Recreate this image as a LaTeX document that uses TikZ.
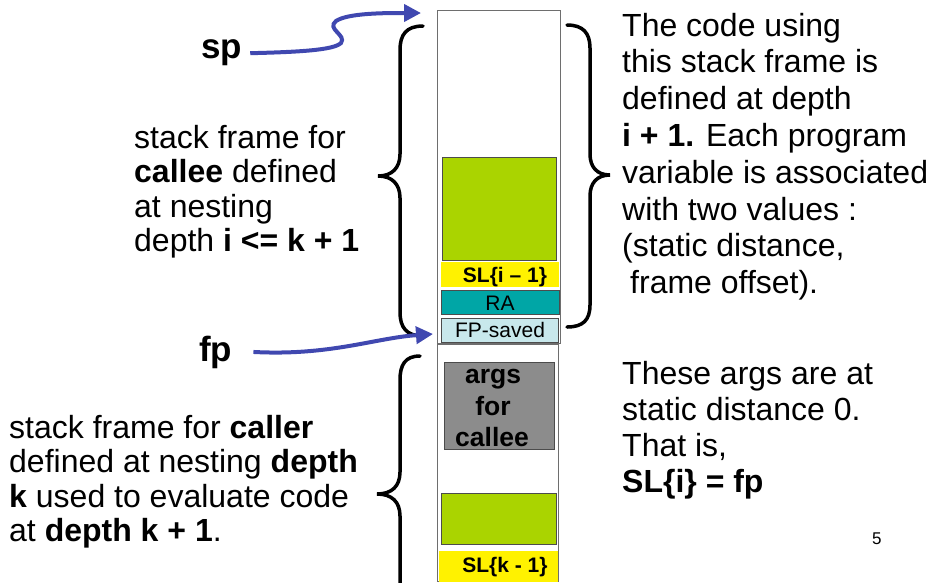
\documentclass[tikz,border=0pt]{standalone}
\usepackage{fontspec}
\setmainfont{Liberation Sans}
\usetikzlibrary{arrows.meta}
\definecolor{limeg}{RGB}{170,212,0}
\definecolor{tealb}{RGB}{0,166,166}
\definecolor{fpblue}{RGB}{200,232,236}
\definecolor{argsgray}{RGB}{140,140,140}
\definecolor{ptrblue}{RGB}{64,72,176}
\definecolor{frameedge}{RGB}{110,110,110}
\begin{document}
\begin{tikzpicture}[x=1pt,y=-1pt,
  txt/.style={font=\fontsize{32}{36}\selectfont, inner sep=0pt, anchor=base west},
  ptrlbl/.style={font=\bfseries\fontsize{35}{38}\selectfont, inner sep=0pt, anchor=base west},
  frame/.style={draw=frameedge, line width=0.8pt, fill=white, inner sep=0pt, anchor=north west},
  slot/.style={draw=black!70, line width=0.8pt, inner sep=0pt, anchor=north west},
  bare/.style={inner sep=0pt, anchor=north west},
  slotlbl/.style={font=\bfseries\fontsize{21}{24}\selectfont, inner sep=0pt, anchor=base},
  argslbl/.style={font=\bfseries\fontsize{26.5}{31}\selectfont, inner sep=0pt, anchor=base},
  brace/.style={draw=black, line width=3.5pt, line cap=round},
  ptr/.style={draw=ptrblue, line width=4pt, -{Triangle[length=17pt,width=17pt]}}]
\useasboundingbox (0,0) rectangle (934,582);

% stack frames
\node[frame, minimum width=123, minimum height=333] (up) at (437,10) {};
\node[frame, minimum width=121, minimum height=237] (low) at (437,344) {};

% upper frame slots
\node[slot, fill=limeg, minimum width=114, minimum height=103] (g1) at (442,157) {};
\node[bare, fill=yellow, minimum width=118, minimum height=25] (sli) at (441,262) {};
\node[slotlbl] (slit) at (505,282) {SL\{i – 1\}};
\node[slot, fill=tealb, minimum width=118, minimum height=24] (ra) at (441,290) {};
\node[font=\fontsize{21}{24}\selectfont, inner sep=0pt, anchor=base] (rat) at (500,310) {RA};
\node[slot, fill=fpblue, minimum width=117, minimum height=24] (fps) at (441,318) {};
\node[font=\fontsize{21}{24}\selectfont, inner sep=0pt, anchor=base] (fpst) at (500,337) {FP-saved};

% lower frame slots
\node[slot, fill=argsgray, minimum width=110, minimum height=87] (args) at (444,362) {};
\node[argslbl] (a1) at (493,383) {args};
\node[argslbl] (a2) at (493,415) {for};
\node[argslbl] (a3) at (492,446) {callee};
\node[slot, fill=limeg, minimum width=115, minimum height=51] (g2) at (441,493) {};
\node[bare, fill=yellow, minimum width=119, minimum height=31] (slk) at (439,551) {};
\node[slotlbl] (slkt) at (505,572) {SL\{k - 1\}};

% braces
\draw[brace] (423,26) .. controls (406,26) and (400,35) .. (400,50) -- (400,154)
  .. controls (400,168) and (392,176) .. (378,176)
  .. controls (392,176) and (400,184) .. (400,198) -- (400,312)
  .. controls (400,327) and (406,336) .. (423,336);
\draw[brace] (567,25) .. controls (583,25) and (590,33) .. (590,48) -- (590,154)
  .. controls (590,167) and (597,175) .. (610,175)
  .. controls (597,175) and (590,183) .. (590,196) -- (590,305)
  .. controls (590,320) and (583,327) .. (567,327);
\draw[brace] (420,356) .. controls (405,356) and (400,365) .. (400,380) -- (400,472)
  .. controls (400,486) and (392,494) .. (377,494)
  .. controls (392,494) and (400,502) .. (400,516) -- (400,590);

% pointers
\node[ptrlbl] (sp) at (201,58) {sp};
\node[ptrlbl] (fp) at (199,361) {fp};
\coordinate (spend) at (421,13);
\coordinate (fpend) at (433,334);
\draw[ptr] ([xshift=8pt,yshift=-1pt]sp.east) .. controls (300,52) and (334,50) .. (341,43)
  .. controls (347,35) and (326,29) .. (336,21)
  .. controls (348,13) and (385,13) .. (spend);
\draw[ptr] ([xshift=21pt]fp.east) .. controls (330,356) and (375,338) .. (fpend);

% texts
\foreach \t [count=\n] in {{stack frame for},{\textbf{callee} defined},{at nesting},{depth \textbf{i <= k + 1}}}
  \node[txt] (la\n) at (134,{148+34.5*(\n-1)}) {\t};
\foreach \t [count=\n] in {{stack frame for \textbf{caller}},{defined at nesting \textbf{depth}},{\textbf{k} used to evaluate code},{at \textbf{depth k + 1}.}}
  \node[txt] (lb\n) at (9,{438+34.5*(\n-1)}) {\t};
\foreach \t [count=\n] in {{The code using},{this stack frame is},{defined at depth},{\textbf{i + 1.} Each program},{variable is associated},{with two values :},{(static distance,},{\hspace{8pt}frame offset).}}
  \node[txt] (ra\n) at (622,{36+36.8*(\n-1)}) {\t};
\foreach \t [count=\n] in {{These args are at},{static distance 0.},{That is,},{\textbf{SL\{i\} = fp}}}
  \node[txt] (rb\n) at (622,{384+36*(\n-1)}) {\t};
\node[font=\fontsize{17}{20}\selectfont, inner sep=0pt, anchor=base west] (pg) at (872,544) {5};
\end{tikzpicture}
\end{document}
